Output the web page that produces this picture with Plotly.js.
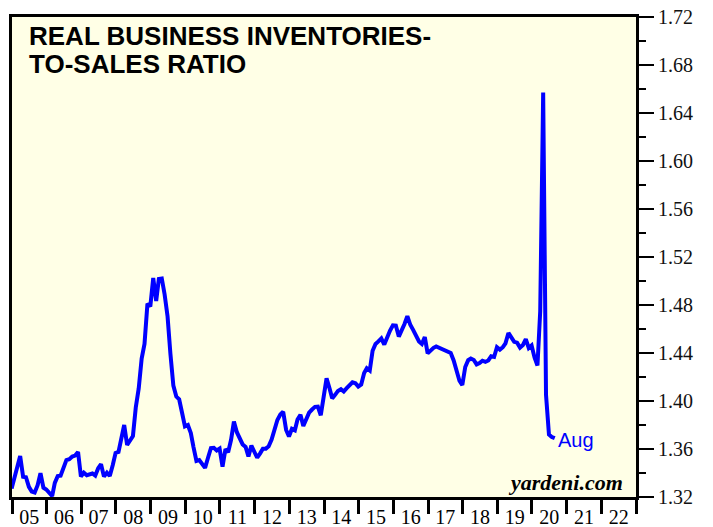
<!DOCTYPE html>
<html>
<head>
<meta charset="utf-8">
<script src="https://cdn.plot.ly/plotly-3.0.1.min.js"></script>
<style>
html,body{margin:0;padding:0;background:#ffffff;}
#chart{width:713px;height:527px;}
</style>
</head>
<body>
<div id="chart"></div>
<script>
// Real business inventories-to-sales ratio, monthly, Dec 2004 .. Aug 2020
const startYear = 2004;
const startMonth = 12;
const ratio2004 = [1.327];
const ratio2005 = [1.3355, 1.3439, 1.3542, 1.3369, 1.3365, 1.3285, 1.3246, 1.3238, 1.3298, 1.3398, 1.3278, 1.3263];
const ratio2006 = [1.3233, 1.3208, 1.3317, 1.3375, 1.3378, 1.3450, 1.3508, 1.3515, 1.3537, 1.3545, 1.3575, 1.3371];
const ratio2007 = [1.3403, 1.3382, 1.3392, 1.3396, 1.3378, 1.3440, 1.3473, 1.3370, 1.3403, 1.3375, 1.3465, 1.3567];
const ratio2008 = [1.3575, 1.3679, 1.3800, 1.3633, 1.3669, 1.3708, 1.3946, 1.4105, 1.4354, 1.4475, 1.4812, 1.4788];
const ratio2009 = [1.5025, 1.4833, 1.5017, 1.5021, 1.4888, 1.4704, 1.4392, 1.4128, 1.4037, 1.4014, 1.3900, 1.3788];
const ratio2010 = [1.3800, 1.3733, 1.3616, 1.3501, 1.3508, 1.3472, 1.3443, 1.3527, 1.3608, 1.3610, 1.3588, 1.3603];
const ratio2011 = [1.3453, 1.3600, 1.3572, 1.3677, 1.3828, 1.3740, 1.3696, 1.3638, 1.3618, 1.3538, 1.3628, 1.3572];
const ratio2012 = [1.3527, 1.3564, 1.3603, 1.3603, 1.3623, 1.3678, 1.3758, 1.3842, 1.3888, 1.3910, 1.3759, 1.3704];
const ratio2013 = [1.3768, 1.3756, 1.3846, 1.3885, 1.3791, 1.3850, 1.3903, 1.3929, 1.3951, 1.3953, 1.3881, 1.4032];
const ratio2014 = [1.4189, 1.4106, 1.4022, 1.4051, 1.4084, 1.4098, 1.4079, 1.4107, 1.4132, 1.4156, 1.4148, 1.4120];
const ratio2015 = [1.4138, 1.4233, 1.4273, 1.4254, 1.4419, 1.4475, 1.4497, 1.4522, 1.4470, 1.4534, 1.4587, 1.4631];
const ratio2016 = [1.4629, 1.4537, 1.4583, 1.4642, 1.4707, 1.4635, 1.4593, 1.4545, 1.4496, 1.4475, 1.4533, 1.4397];
const ratio2017 = [1.4423, 1.4443, 1.4455, 1.4444, 1.4437, 1.4425, 1.4409, 1.4400, 1.4338, 1.4248, 1.4169, 1.4133];
const ratio2018 = [1.4283, 1.4340, 1.4354, 1.4342, 1.4305, 1.4317, 1.4336, 1.4326, 1.4338, 1.4373, 1.4367, 1.4448];
const ratio2019 = [1.4428, 1.4448, 1.4480, 1.4567, 1.4533, 1.4493, 1.4486, 1.4445, 1.4467, 1.4515, 1.4442, 1.4463];
const ratio2020 = [1.4363, 1.4296, 1.4750, 1.6570, 1.4050, 1.3720, 1.3700, 1.3690];

const lastLabel = 'Aug';
const titleLine1 = 'REAL BUSINESS INVENTORIES-';
const titleLine2 = 'TO-SALES RATIO';
const sourceText = 'yardeni.com';

const allValues = [].concat(ratio2004, ratio2005, ratio2006, ratio2007, ratio2008, ratio2009,
  ratio2010, ratio2011, ratio2012, ratio2013, ratio2014, ratio2015, ratio2016, ratio2017,
  ratio2018, ratio2019, ratio2020);

const dates = allValues.map((v, i) => {
  const idx = (startMonth - 1) + i;
  const y = startYear + Math.floor(idx / 12);
  const m = (idx % 12) + 1;
  return y + '-' + String(m).padStart(2, '0') + '-28';
});

const serif = 'Liberation Serif, Times New Roman, serif';
const sans = 'Liberation Sans, Arial, sans-serif';

const trace = {
  x: dates, y: allValues, type: 'scatter', mode: 'lines',
  line: {color: '#0000FF', width: 4}, hoverinfo: 'skip'
};

const layout = {
  width: 713, height: 527,
  margin: {l: 12, r: 77, t: 17, b: 30, pad: 0},
  paper_bgcolor: '#ffffff',
  plot_bgcolor: '#FFFFE6',
  showlegend: false,
  xaxis: {
    type: 'date', range: ['2005-01-01', '2023-01-01'],
    tick0: '2005-01-01', dtick: 'M12', tickformat: '%y', ticklabelmode: 'period',
    ticks: 'outside', ticklen: 14, tickwidth: 3, tickcolor: '#000',
    ticklabelstandoff: -14,
    showline: true, linewidth: 3, linecolor: '#000', mirror: true,
    showgrid: false, zeroline: false, fixedrange: true,
    tickfont: {family: serif, size: 20, color: '#000'}
  },
  yaxis: {
    side: 'right', range: [1.32, 1.72], tick0: 1.32, dtick: 0.04, tickformat: '.2f',
    ticks: 'outside', ticklen: 15, tickwidth: 2, tickcolor: '#000',
    minor: {tick0: 1.32, dtick: 0.02, ticks: 'outside', ticklen: 7, tickwidth: 2, tickcolor: '#000', showgrid: false},
    showline: true, linewidth: 3, linecolor: '#000', mirror: true,
    showgrid: false, zeroline: false, fixedrange: true,
    tickfont: {family: serif, size: 20, color: '#111'}
  },
  annotations: [
    {xref: 'paper', yref: 'paper', x: 0.0256, y: 0.960, xanchor: 'left', yanchor: 'middle',
     text: '<b>' + titleLine1 + '</b>', showarrow: false, borderpad: 0,
     font: {family: sans, size: 26, color: '#000'}},
    {xref: 'paper', yref: 'paper', x: 0.0256, y: 0.902, xanchor: 'left', yanchor: 'middle',
     text: '<b>' + titleLine2 + '</b>', showarrow: false, borderpad: 0,
     font: {family: sans, size: 26, color: '#000'}},
    {xref: 'paper', yref: 'paper', x: 0.982, y: 0.031, xanchor: 'right', yanchor: 'middle',
     text: '<b><i>' + sourceText + '</i></b>', showarrow: false,
     font: {family: serif, size: 22, color: '#000'}},
    {xref: 'x', yref: 'y', x: dates[dates.length - 1], y: allValues[allValues.length - 1],
     xanchor: 'left', yanchor: 'middle', xshift: 1, yshift: -2,
     text: lastLabel, showarrow: false,
     font: {family: sans, size: 20, color: '#0000FF'}}
  ]
};

Plotly.newPlot('chart', [trace], layout, {staticPlot: true, displayModeBar: false});
</script>
</body>
</html>
